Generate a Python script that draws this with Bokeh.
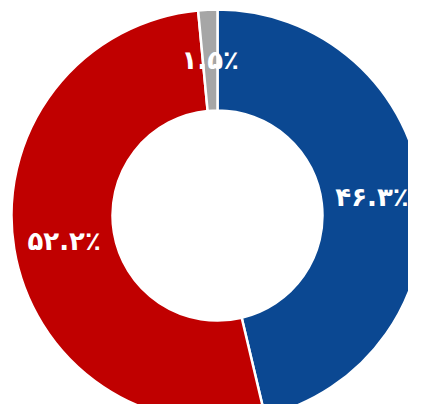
import math
from bokeh.plotting import figure
from bokeh.models import ColumnDataSource, Range1d
from bokeh.core.properties import value
from bokeh.embed import file_html
from bokeh.resources import INLINE

# Data
categories = ["blue", "red", "gray"]
shares = [46.3, 52.2, 1.5]
labels = ["۴۶.۳٪", "۵۲.۲٪", "۱.۵٪"]
colors = ["#0B4892", "#C00000", "#A6A6A6"]

W, H = 408, 404
cx, cy = 217, 215  # center in pixels from top-left
R_OUT, R_IN = 206, 105

total = sum(shares)
starts, ends, lx, ly = [], [], [], []
acc = 0.0
r_lab = (R_OUT + R_IN) / 2
for s in shares:
    a0 = math.pi / 2 - 2 * math.pi * acc / total
    acc += s
    a1 = math.pi / 2 - 2 * math.pi * acc / total
    starts.append(a0)
    ends.append(a1)
    mid = (a0 + a1) / 2
    lx.append(r_lab * math.cos(mid))
    ly.append(r_lab * math.sin(mid))

src = ColumnDataSource(dict(start=starts, end=ends, color=colors, cat=categories))
lab = ColumnDataSource(dict(x=lx, y=ly, text=labels))

p = figure(width=W, height=H, output_backend="svg", toolbar_location=None,
           x_range=Range1d(-cx, W - cx), y_range=Range1d(-(H - cy), cy),
           min_border=0)
p.axis.visible = False
p.grid.visible = False
p.outline_line_color = None
p.background_fill_color = "white"
p.border_fill_color = "white"

p.annular_wedge(x=0, y=0, inner_radius=R_IN, outer_radius=R_OUT,
                start_angle="start", end_angle="end", direction="clock",
                fill_color="color", line_color="white", line_width=2.5, source=src)

p.text(x="x", y="y", text="text", source=lab, text_color="white",
       text_font=value("DejaVu Sans"), text_font_style="bold",
       text_font_size="26px", text_align="center", text_baseline="middle")

open("out.html", "w").write(file_html(p, INLINE))
